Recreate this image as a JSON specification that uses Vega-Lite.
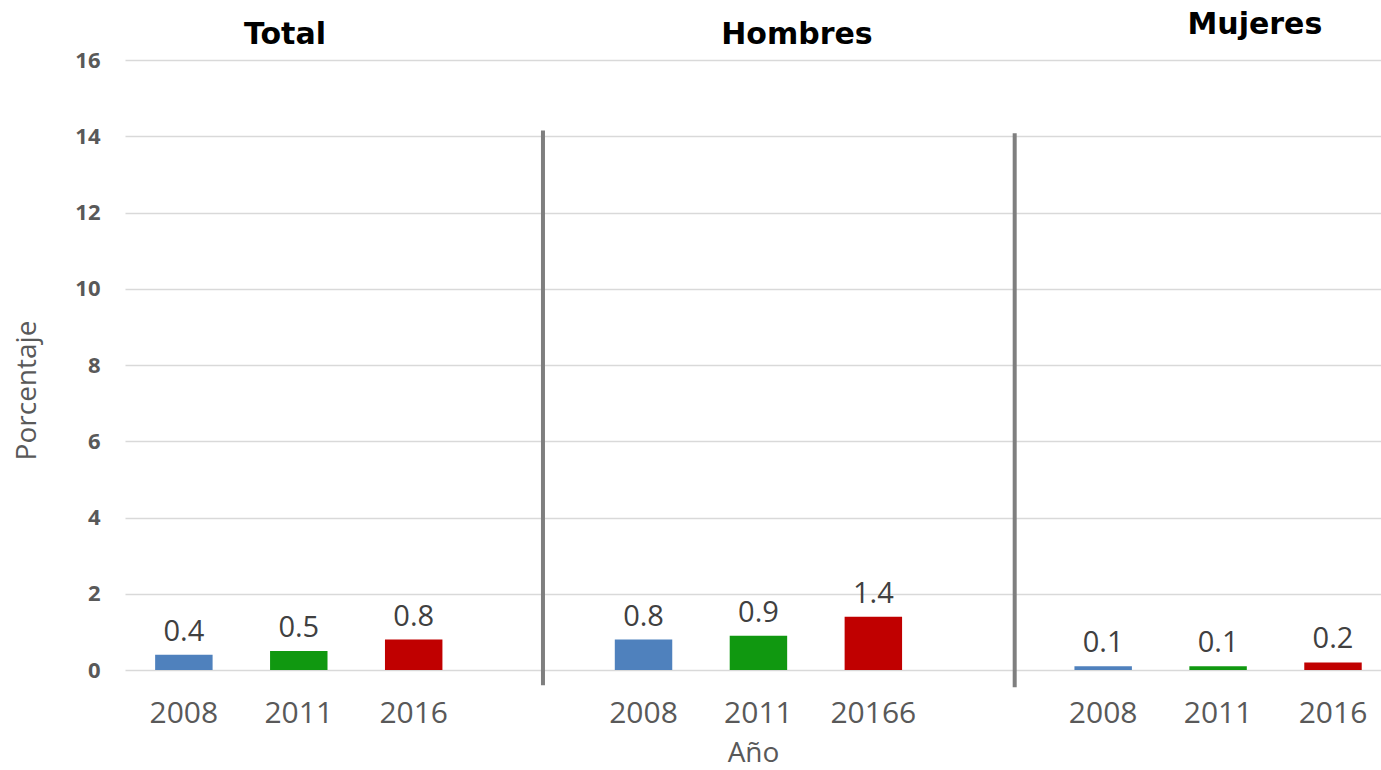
{
  "$schema": "https://vega.github.io/schema/vega-lite/v6.json",
  "width": 1256,
  "height": 610,
  "autosize": {"type": "none"},
  "padding": {"left": 125, "top": 60, "right": 0, "bottom": 100},
  "background": "white",
  "config": {"view": {"stroke": null}, "font": "Open Sans"},
  "datasets": {
    "bars": [
      {"cat": "Total|2008", "year": "2008", "value": 0.4},
      {"cat": "Total|2011", "year": "2011", "value": 0.5},
      {"cat": "Total|2016", "year": "2016", "value": 0.8},
      {"cat": "Hombres|2008", "year": "2008", "value": 0.8},
      {"cat": "Hombres|2011", "year": "2011", "value": 0.9},
      {"cat": "Hombres|20166", "year": "2016", "value": 1.4},
      {"cat": "Mujeres|2008", "year": "2008", "value": 0.1},
      {"cat": "Mujeres|2011", "year": "2011", "value": 0.1},
      {"cat": "Mujeres|2016", "year": "2016", "value": 0.2}
    ],
    "titles": [
      {"cat": "Total|2011", "name": "Total"},
      {"cat": "Hombres|2011", "name": "Hombres"},
      {"cat": "Mujeres|2011", "name": "Mujeres"}
    ]
  },
  "layer": [
    {
      "data": {"name": "bars"},
      "mark": {"type": "bar"},
      "encoding": {
        "x": {
          "field": "cat",
          "type": "nominal",
          "sort": null,
          "scale": {
            "domain": ["Total|2008", "Total|2011", "Total|2016", "gap1|", "Hombres|2008", "Hombres|2011", "Hombres|20166", "gap2|", "Mujeres|2008", "Mujeres|2011", "Mujeres|2016"],
            "paddingInner": 0.5,
            "paddingOuter": 0.215,
            "align": 0.61
          },
          "axis": {
            "labelExpr": "split(datum.value, '|')[1]",
            "labelAngle": 0,
            "labelFontSize": 30,
            "labelColor": "#595959",
            "labelPadding": 28,
            "ticks": false,
            "domain": false,
            "grid": false,
            "title": "Año",
            "titleFontSize": 28,
            "titleFontWeight": "normal",
            "titleColor": "#595959",
            "titlePadding": 11
          }
        },
        "y": {
          "field": "value",
          "type": "quantitative",
          "scale": {"domain": [0, 16]},
          "axis": {
            "values": [0, 2, 4, 6, 8, 10, 12, 14, 16],
            "grid": true,
            "gridColor": "#d9d9d9",
            "gridWidth": 1.5,
            "domain": false,
            "ticks": false,
            "labelFontSize": 22,
            "labelFontWeight": "bold",
            "labelColor": "#595959",
            "labelPadding": 25,
            "title": "Porcentaje",
            "titleFontSize": 28,
            "titleFontWeight": "normal",
            "titleColor": "#595959",
            "titlePadding": 33,
            "titleY": 330
          }
        },
        "color": {
          "field": "year",
          "type": "nominal",
          "scale": {"domain": ["2008", "2011", "2016"], "range": ["#4f81bd", "#109810", "#c00000"]},
          "legend": null
        }
      }
    },
    {
      "data": {"name": "bars"},
      "mark": {"type": "text", "baseline": "bottom", "dy": -8, "fontSize": 29, "color": "#404040"},
      "encoding": {
        "x": {"field": "cat", "type": "nominal", "sort": null},
        "y": {"field": "value", "type": "quantitative"},
        "text": {"field": "value", "type": "quantitative", "format": ".1f"}
      }
    },
    {
      "data": {"values": [{"cat": "gap1|"}]},
      "mark": {"type": "rule", "color": "#7f7f7f", "strokeWidth": 4},
      "encoding": {
        "x": {"field": "cat", "type": "nominal", "bandPosition": 0.75},
        "y": {"datum": 14.15, "type": "quantitative"},
        "y2": {"datum": -0.4}
      }
    },
    {
      "data": {"values": [{"cat": "gap2|"}]},
      "mark": {"type": "rule", "color": "#7f7f7f", "strokeWidth": 4},
      "encoding": {
        "x": {"field": "cat", "type": "nominal", "bandPosition": 0.96},
        "y": {"datum": 14.08, "type": "quantitative"},
        "y2": {"datum": -0.45}
      }
    },
    {
      "data": {"name": "titles"},
      "transform": [{"filter": "datum.name == 'Total'"}],
      "mark": {"type": "text", "font": "DejaVu Sans", "fontWeight": "bold", "fontSize": 30, "color": "black", "baseline": "middle"},
      "encoding": {
        "x": {"field": "cat", "type": "nominal", "bandPosition": 0.26},
        "y": {"datum": 16.66, "type": "quantitative"},
        "text": {"field": "name"}
      }
    },
    {
      "data": {"name": "titles"},
      "transform": [{"filter": "datum.name == 'Hombres'"}],
      "mark": {"type": "text", "font": "DejaVu Sans", "fontWeight": "bold", "fontSize": 30, "color": "black", "baseline": "middle"},
      "encoding": {
        "x": {"field": "cat", "type": "nominal", "bandPosition": 1.17},
        "y": {"datum": 16.66, "type": "quantitative"},
        "text": {"field": "name"}
      }
    },
    {
      "data": {"name": "titles"},
      "transform": [{"filter": "datum.name == 'Mujeres'"}],
      "mark": {"type": "text", "font": "DejaVu Sans", "fontWeight": "bold", "fontSize": 30, "color": "black", "baseline": "middle"},
      "encoding": {
        "x": {"field": "cat", "type": "nominal", "bandPosition": 1.14},
        "y": {"datum": 16.92, "type": "quantitative"},
        "text": {"field": "name"}
      }
    }
  ]
}
